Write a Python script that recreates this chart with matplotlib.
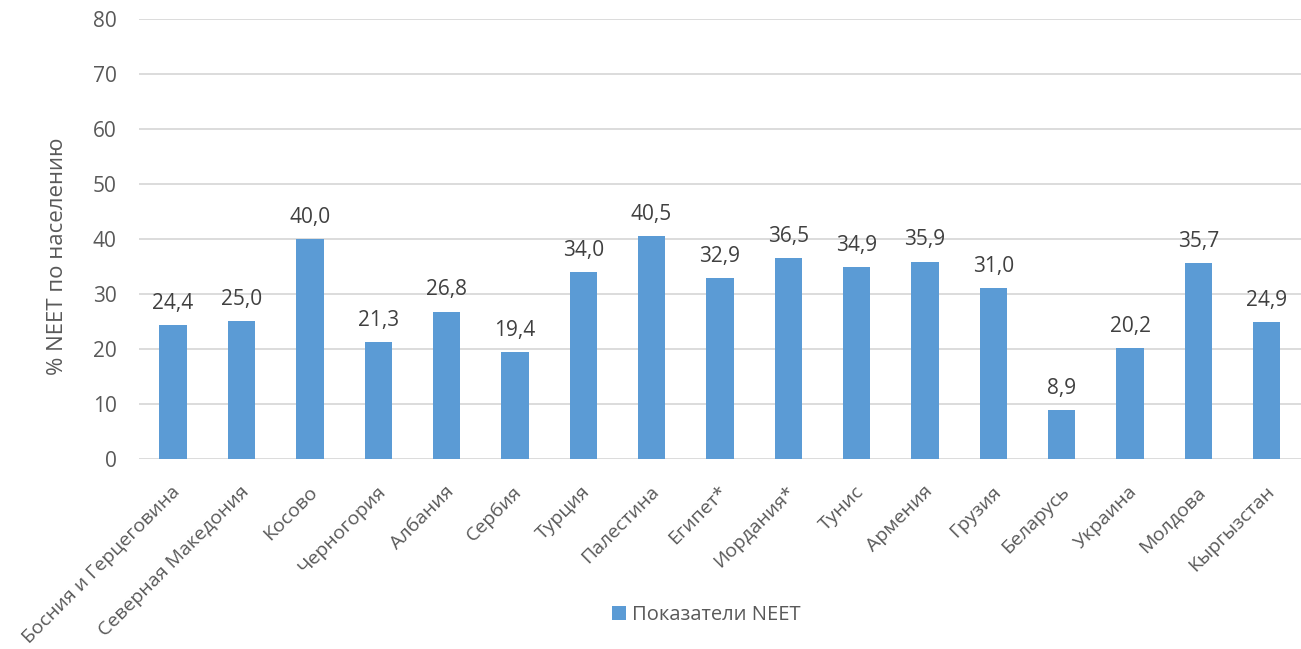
import matplotlib.pyplot as plt
import matplotlib.transforms as mtransforms
import numpy as np

countries = ['Босния и Герцеговина', 'Северная Македония', 'Косово', 'Черногория',
             'Албания', 'Сербия', 'Турция', 'Палестина', 'Египет*', 'Иордания*',
             'Тунис', 'Армения', 'Грузия', 'Беларусь', 'Украина', 'Молдова',
             'Кыргызстан']
neet = [24.4, 25.0, 40.0, 21.3, 26.8, 19.4, 34.0, 40.5, 32.9, 36.5,
        34.9, 35.9, 31.0, 8.9, 20.2, 35.7, 24.9]

plt.rcParams['font.family'] = ['Open Sans', 'DejaVu Sans']
grey = '#595959'

fig = plt.figure(figsize=(13.01, 6.49), dpi=100)
ax = fig.add_axes([0.1068, 0.2928, 0.8932, 0.6779])

x = np.arange(len(countries))
bars = ax.bar(x, neet, width=0.4, color='#5B9BD5', label='Показатели NEET', zorder=3)

for b, v in zip(bars, neet):
    ax.annotate(f'{v:.1f}'.replace('.', ','), (b.get_x() + b.get_width() / 2, v),
                xytext=(0, 8), textcoords='offset points',
                ha='center', va='bottom', fontsize=15, color='#404040')

ax.set_xlim(-0.5, len(countries) - 0.5)
ax.set_ylim(0, 80)
ax.set_yticks(range(0, 81, 10))
ax.yaxis.grid(True, color='#D9D9D9', linewidth=1.3, zorder=0)
ax.tick_params(axis='y', length=0, pad=16, labelsize=15, labelcolor=grey)
ax.tick_params(axis='x', length=0, pad=17, labelsize=14, labelcolor=grey)
ax.set_xticks(x)
ax.set_xticklabels(countries, rotation=45, ha='right', rotation_mode='anchor')
shift = mtransforms.ScaledTranslation(-2 / 100, 0, fig.dpi_scale_trans)
for lbl in ax.get_xticklabels():
    lbl.set_transform(lbl.get_transform() + shift)
for s in ax.spines.values():
    s.set_visible(False)

ax.set_ylabel('% NEET по населению', fontsize=16, color=grey)
ax.yaxis.set_label_coords(-0.061, 0.46)

fig.legend(loc='center', bbox_to_anchor=(0.5427, 0.0524), frameon=False,
           fontsize=14.5, labelcolor=grey, handlelength=0.7, handleheight=0.7,
           handletextpad=0.3)

fig.savefig('out.png', dpi=100)
